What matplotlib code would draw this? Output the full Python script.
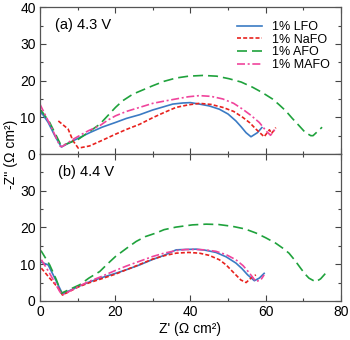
import matplotlib
matplotlib.use('Agg')
import matplotlib.pyplot as plt
from matplotlib.ticker import MultipleLocator

plt.rcParams['font.family'] = ['Liberation Sans', 'DejaVu Sans']
plt.rcParams['font.size'] = 10

# (a) 4.3 V  -- Z' and -Z'' in ohm cm2
lfo_a_x = [0, 0.4, 2.2, 4.0, 5.7, 8.8, 13.2, 16.5, 20.1, 23.0, 26.5, 30.0, 33.0, 35.3, 38.0, 40.0, 42.4, 45.0, 47.7, 50.0, 52.1, 53.5, 54.8, 56.1, 57.8, 59.0]
lfo_a_y = [10.5, 11.3, 8.6, 4.9, 1.9, 3.6, 5.8, 7.3, 8.6, 9.7, 10.7, 12.0, 12.9, 13.6, 13.9, 14.0, 13.6, 13.1, 12.2, 10.9, 9.0, 7.4, 5.8, 4.7, 5.8, 7.2]
nafo_a_x = [4.9, 7.5, 8.8, 10.2, 13.2, 16.5, 20.1, 23.0, 26.5, 30.0, 33.0, 36.2, 39.5, 42.4, 45.5, 48.6, 51.5, 53.9, 55.8, 57.4, 59.6, 61.0, 61.6, 62.7]
nafo_a_y = [9.0, 6.8, 3.6, 1.6, 2.2, 3.7, 5.4, 6.7, 8.1, 9.9, 11.3, 12.7, 13.4, 13.8, 13.5, 12.7, 11.6, 10.0, 8.5, 6.8, 4.7, 6.6, 5.6, 7.2]
afo_a_x = [0, 0.4, 2.6, 4.4, 5.7, 10.2, 15.9, 20.1, 22.0, 24.7, 27.0, 30.0, 33.0, 36.2, 39.5, 43.3, 47.0, 50.3, 53.5, 56.5, 59.0, 61.8, 63.5, 65.3, 67.0, 68.9, 70.5, 72.0, 72.6, 75.0]
afo_a_y = [12.0, 11.8, 8.6, 4.9, 2.2, 4.0, 8.1, 12.7, 14.5, 16.3, 17.3, 18.6, 19.8, 20.7, 21.2, 21.4, 21.2, 20.5, 19.6, 18.2, 16.8, 15.0, 13.5, 11.8, 9.8, 7.7, 5.9, 5.0, 5.0, 7.3]
mafo_a_x = [0, 1.3, 3.5, 5.3, 5.9, 8.8, 11.0, 13.0, 15.9, 18.0, 20.1, 23.0, 26.5, 30.0, 33.0, 36.2, 39.5, 42.4, 45.5, 48.6, 51.5, 53.9, 56.0, 58.3, 60.2, 61.3, 62.6]
mafo_a_y = [13.6, 10.9, 6.3, 2.2, 2.0, 4.0, 5.3, 6.4, 7.7, 9.2, 10.4, 11.6, 12.7, 13.8, 14.4, 15.0, 15.6, 15.9, 15.7, 15.0, 13.8, 12.2, 10.6, 8.6, 6.2, 5.1, 6.9]

# (b) 4.4 V
lfo_b_x = [0, 2.2, 4.4, 6.0, 10.2, 13.0, 16.0, 20.1, 23.0, 26.5, 30.0, 33.0, 36.2, 38.5, 41.5, 44.0, 46.8, 49.5, 52.1, 53.7, 55.2, 57.0, 58.3, 59.6]
lfo_b_y = [10.7, 9.8, 5.3, 1.9, 3.9, 5.1, 6.2, 7.5, 8.5, 9.8, 11.3, 12.4, 13.9, 14.0, 14.1, 13.8, 13.2, 12.0, 10.3, 8.8, 7.1, 5.5, 6.2, 7.5]
nafo_b_x = [0.4, 2.6, 4.9, 6.0, 10.2, 13.0, 16.0, 20.1, 23.0, 25.5, 30.0, 33.0, 36.2, 39.5, 42.4, 45.0, 47.7, 49.5, 51.2, 53.4, 54.8, 56.1, 57.4]
nafo_b_y = [8.9, 6.2, 3.5, 1.6, 3.8, 4.9, 5.9, 7.3, 8.5, 9.5, 11.4, 12.3, 13.0, 13.2, 13.0, 12.4, 11.2, 9.8, 8.0, 5.7, 5.0, 6.2, 7.1]
afo_b_x = [0, 0.4, 2.6, 4.4, 5.7, 10.6, 13.0, 15.9, 18.0, 20.1, 23.0, 25.6, 28.0, 30.9, 33.0, 36.2, 40.5, 44.2, 47.5, 51.2, 54.5, 57.4, 60.0, 62.7, 64.5, 66.2, 67.8, 69.3, 70.4, 71.5, 73.3, 74.6, 76.0]
afo_b_y = [13.8, 13.5, 9.8, 5.7, 2.1, 4.4, 6.2, 8.0, 10.1, 12.1, 14.3, 16.2, 17.5, 18.5, 19.4, 20.1, 20.7, 20.9, 20.8, 20.3, 19.6, 18.5, 17.2, 15.7, 14.4, 13.0, 11.0, 8.9, 7.4, 6.2, 5.2, 6.0, 7.6]
mafo_b_x = [0.4, 2.6, 5.3, 6.0, 10.2, 13.0, 16.0, 20.1, 23.0, 26.5, 30.0, 33.0, 36.2, 38.8, 41.5, 44.0, 46.8, 49.5, 52.1, 54.0, 55.6, 57.4, 58.7, 59.6]
mafo_b_y = [11.2, 7.5, 2.5, 1.6, 3.9, 5.3, 6.5, 8.3, 9.5, 10.8, 12.1, 13.0, 13.7, 14.0, 14.0, 13.9, 13.5, 12.6, 11.2, 9.6, 7.7, 5.3, 5.7, 7.1]

labels = ['1% LFO', '1% NaFO', '1% AFO', '1% MAFO']
colors = ['#3b7bc4', '#e8221e', '#1fa23c', '#f0449c']
dashes = [None, (2.4, 1.3), (6, 3), (4.8, 1.6, 1.2, 1.6)]

fig, (ax1, ax2) = plt.subplots(2, 1, sharex=True, figsize=(3.5, 3.4), dpi=100)
fig.subplots_adjust(left=0.114, right=0.974, top=0.979, bottom=0.115, hspace=0)

panels = [
    (ax1, [(lfo_a_x, lfo_a_y), (nafo_a_x, nafo_a_y), (afo_a_x, afo_a_y), (mafo_a_x, mafo_a_y)]),
    (ax2, [(lfo_b_x, lfo_b_y), (nafo_b_x, nafo_b_y), (afo_b_x, afo_b_y), (mafo_b_x, mafo_b_y)]),
]
for ax, series in panels:
    for (x, y), lab, c, d in zip(series, labels, colors, dashes):
        ln, = ax.plot(x, y, color=c, lw=1.2, label=lab)
        if d is not None:
            ln.set_dashes(d)
    ax.set_xlim(0, 80)
    ax.set_ylim(0, 40)
    ax.xaxis.set_major_locator(MultipleLocator(20))
    ax.xaxis.set_minor_locator(MultipleLocator(10))
    ax.yaxis.set_major_locator(MultipleLocator(10))
    ax.yaxis.set_minor_locator(MultipleLocator(5))
    ax.tick_params(which='both', direction='in', top=True, right=True, color='#444444', labelsize=10, pad=3)
    ax.tick_params(which='major', length=4.5, width=0.8)
    ax.tick_params(which='minor', length=2.5, width=0.8)
    for s in ax.spines.values():
        s.set_color('#555555')
        s.set_linewidth(0.9)

ax2.set_yticks([0, 10, 20, 30])
ax1.tick_params(labelbottom=False)

ax1.text(0.05, 0.85, '(a) 4.3 V', transform=ax1.transAxes, fontsize=10.5)
ax2.text(0.06, 0.85, '(b) 4.4 V', transform=ax2.transAxes, fontsize=10.5)

ax1.legend(loc='upper left', bbox_to_anchor=(0.655, 0.905), frameon=False, fontsize=9,
           handlelength=2.0, handletextpad=0.8, labelspacing=0.05, borderpad=0, borderaxespad=0)

ax2.set_xlabel("Z' (\u03a9 cm\u00b2)", fontsize=10, labelpad=2)
fig.text(0.03, 0.547, "-Z'' (\u03a9 cm\u00b2)", rotation=90, ha='center', va='center', fontsize=10)

fig.savefig('out.png', dpi=100)
